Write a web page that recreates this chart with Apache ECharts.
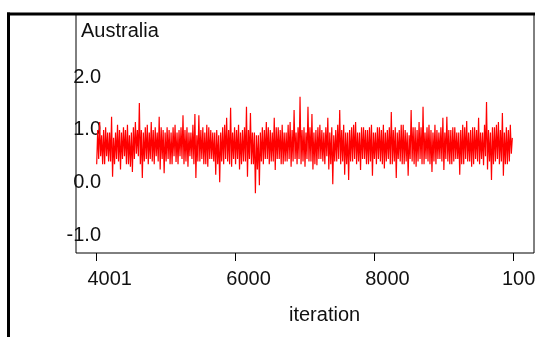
<!DOCTYPE html>
<html>
<head>
<meta charset="utf-8">
<script src="https://cdn.jsdelivr.net/npm/echarts@6/dist/echarts.min.js"></script>
<style>
html,body{margin:0;padding:0;background:#fff;}
#chart{width:535px;height:337px;}
</style>
</head>
<body>
<div id="chart"></div>
<script>
// MCMC trace for "Australia", iterations 4001..10000.
// Thinned to 210 columns; for each column the low and high of the trace.
var firstIter = 4001;
var lastIter = 10000;
var traceLow = [
  0.3,0.4,0.45,0.3,0.3,0.45,0.35,0.35,0.06,0.3, 0.4,0.35,0.2,0.4,0.45,0.3,0.3,0.25,0.15,0.4,
  0.5,0.45,0.3,0.04,0.35,0.4,0.3,0.4,0.35,0.3, 0.45,0.35,0.2,0.4,0.13,
  0.35,0.4,0.3,0.3,0.45,0.34,0.3,0.45,0.4,0.3, 0.35,0.25,0.45,0.4,0.3,0.04,0.35,0.35,0.4,0.3,
  0.3,0.25,0.4,0.4,0.35,0.1,0.3,-0.04,0.35,0.3, 0.4,0.35,0.3,0.25,0.4,0.3,
  0.4,0.2,0.3,0.35,0.35,0.06,0.4,0.3,0.3,-0.25, 0.2,-0.1,0.35,0.3,0.4,0.4,0.3,0.35,0.35,0.19,
  0.4,0.4,0.3,0.3,0.35,0.35,0.4,0.25,0.35,0.4, 0.3,0.4,0.3,0.35,0.25,
  0.4,0.35,0.35,0.2,0.3,0.28,0.4,0.4,0.35,0.3, 0.45,0.2,0.3,-0.08,0.35,0.35,0.4,0.3,0.35,0.1,
  0.3,0.0,0.35,0.35,0.4,0.3,0.35,0.19,0.4,0.4, 0.3,0.3,0.35,0.08,0.4,
  0.3,0.4,0.35,0.3,0.22,0.35,0.4,0.3,0.3,0.35, 0.04,0.4,0.35,0.3,0.3,0.35,0.08,0.4,0.35,0.3,
  0.25,0.35,0.4,0.3,0.3,0.4,0.35,0.3,0.15,0.35, 0.3,0.4,0.4,0.35,0.19,
  0.4,0.35,0.3,0.3,0.35,0.4,0.4,0.1,0.3,0.3, 0.4,0.35,0.35,0.25,0.3,0.4,0.35,0.3,0.4,0.28,
  0.45,0.2,0.35,0.0,0.3,0.35,0.4,0.3,0.35,0.08, 0.3,0.3,0.35,0.5
];
var traceHigh = [
  0.95,1.1,0.85,0.95,1.0,0.9,0.9,1.2,0.8,0.9, 1.05,0.95,0.9,1.0,0.95,1.05,0.85,0.9,1.0,1.1,
  0.95,1.46,0.95,0.9,1.0,1.05,0.9,1.1,0.95,1.0, 0.9,1.2,1.0,0.95,0.9,
  1.0,0.95,0.9,1.0,1.05,0.9,0.95,1.0,1.23,0.95, 1.0,0.9,0.9,1.05,1.25,0.85,1.23,0.95,1.0,0.9,
  1.05,1.0,0.95,0.9,0.9,0.95,0.85,0.9,1.0,1.05, 1.18,0.95,1.37,0.9,1.0,0.95,
  1.05,0.9,0.95,1.0,1.39,0.95,1.27,0.9,0.9,0.85, 0.85,0.9,1.0,0.95,1.1,1.0,0.95,0.9,1.18,1.0,
  1.0,0.95,1.05,0.9,0.9,1.05,1.1,0.95,1.33,0.9, 1.0,1.58,0.95,1.0,0.9,
  1.39,1.0,1.25,0.9,0.95,1.0,1.05,0.95,0.9,1.0, 1.18,0.9,1.0,0.85,0.95,1.05,1.33,0.95,1.05,0.9,
  0.9,0.95,1.0,1.05,1.1,0.9,0.9,1.0,1.0,0.95, 0.95,1.0,1.05,0.9,0.9,
  1.0,1.0,0.95,1.05,0.9,0.95,1.0,1.29,0.95,1.0, 0.9,0.95,1.05,1.05,0.95,0.9,0.85,1.33,1.0,1.0,
  0.95,1.1,1.0,1.39,0.9,1.0,1.05,0.95,0.9,1.05, 0.95,0.9,1.0,1.18,0.9,
  1.2,0.95,0.95,1.0,1.0,0.9,0.9,0.95,1.05,1.0, 1.12,0.9,0.95,1.0,1.0,0.95,1.18,0.9,0.9,1.05,
  1.48,0.95,0.9,1.0,1.0,1.05,1.1,0.95,1.27,0.9, 1.0,0.95,1.05,0.8
];
var xTickValues = [4001, 6000, 8000, 10000];
var yTickValues = [-1, 0, 1, 2];
var titleText = "Australia";
var xAxisTitle = "iteration";

var n = traceLow.length;
var colWidth = (lastIter - firstIter) / n;
var seriesData = [];
for (var k = 0; k < n; k++) {
  var x0 = firstIter + k * colWidth;
  seriesData.push([x0, traceLow[k]]);
  seriesData.push([x0 + colWidth / 2, traceHigh[k]]);
}

var FONT = "'Liberation Sans', Arial, Helvetica, sans-serif";
var chart = echarts.init(document.getElementById('chart'), null, {renderer: 'canvas'});
chart.setOption({
  animation: false,
  backgroundColor: '#fff',
  grid: {left: 76, right: 1, top: 14, bottom: 84, outerBoundsMode: 'none', containLabel: false,
    show: true, borderColor: '#000', borderWidth: 1, backgroundColor: 'transparent'},
  xAxis: {
    type: 'value', min: 3703, max: 10298,
    axisLine: {show: false, onZero: false},
    splitLine: {show: false},
    axisTick: {show: true, customValues: xTickValues, length: 8, lineStyle: {color: '#000', width: 1}},
    axisLabel: {customValues: xTickValues, margin: 16,
      padding: [0, 0, 0, 26], hideOverlap: false,
      formatter: function (v) { return (v === lastIter ? '{e|' : '{t|') + String(v) + '}'; },
      rich: {
        t: {fontSize: 20, color: '#111', fontFamily: FONT},
        e: {fontSize: 20, color: '#111', fontFamily: FONT, padding: [0, 0, 0, 7]}
      }}
  },
  yAxis: {
    type: 'value', min: -1.385, max: 3.15,
    axisLine: {show: false, onZero: false},
    splitLine: {show: false},
    axisTick: {show: false},
    axisLabel: {customValues: yTickValues, margin: -25,
      formatter: function (v) { return '{t|' + v.toFixed(1) + '}'; },
      rich: {t: {fontSize: 20, color: '#111', fontFamily: FONT, padding: [5, 0, 0, 0]}}}
  },
  series: [{
    type: 'line', data: seriesData, showSymbol: false, symbol: 'none',
    lineStyle: {color: '#ff0000', width: 1.2, join: 'bevel'}, z: 1
  }],
  graphic: [
    {type: 'text', left: 81, top: 21, style: {text: titleText, fontSize: 20, fontFamily: FONT, fill: '#111'}},
    {type: 'text', left: 289, top: 305, style: {text: xAxisTitle, fontSize: 20, fontFamily: FONT, fill: '#111'}},
    {type: 'line', shape: {x1: 8.5, y1: 12.5, x2: 8.5, y2: 337}, style: {stroke: '#000', lineWidth: 3}, z: 100},
    {type: 'line', shape: {x1: 7, y1: 14, x2: 535, y2: 14}, style: {stroke: '#000', lineWidth: 3}, z: 100}
  ]
});
</script>
</body>
</html>
